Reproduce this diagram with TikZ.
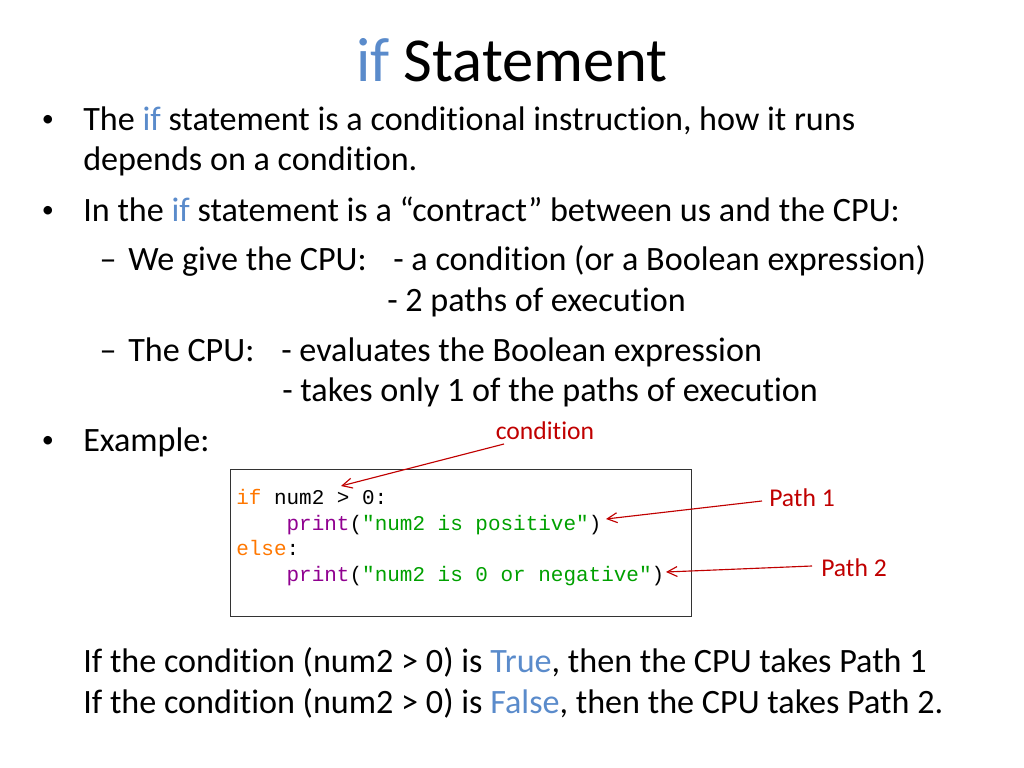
\documentclass[tikz,border=0pt]{standalone}
\usepackage{fontspec}
\setmainfont{Carlito}[Ligatures=NoCommon]
\newfontfamily\codefont{Liberation Mono}
\usetikzlibrary{arrows.meta}
\definecolor{kwblue}{HTML}{5A8BCB}
\definecolor{lblred}{HTML}{C00000}
\definecolor{pyorange}{HTML}{FF7700}
\definecolor{pypurple}{HTML}{900090}
\definecolor{pygreen}{HTML}{00A000}
\begin{document}
\begin{tikzpicture}[x=0.703125pt,y=-0.703125pt,
  body/.style={anchor=base west,inner sep=0pt,font=\fontsize{24}{28}\selectfont},
  bulletmark/.style={anchor=base,inner sep=0pt,font=\fontsize{17}{20}\selectfont},
  dashmark/.style={anchor=base,inner sep=0pt,font=\fontsize{24}{28}\selectfont},
  lbl/.style={inner sep=0pt,text=lblred,font=\fontsize{18}{21}\selectfont},
  code/.style={anchor=base west,inner sep=0pt,font=\codefont\fontsize{14.75}{17}\selectfont},
  callout/.style={draw=lblred,line width=0.8pt,-{Straight Barb[length=7pt,width=7pt]}}]
\useasboundingbox (0,0) rectangle (1024,768);
% title
\node[anchor=base,inner sep=0pt,font=\fontsize{44}{52}\selectfont] (title) at (512,82) {\textcolor{kwblue}{if} Statement};
% bullets
\node[bulletmark] (b1) at (48,127) {\textbullet};
\node[body] (t1) at (83,131) {The \textcolor{kwblue}{if} statement is a conditional instruction, how it runs};
\node[body] (t1b) at (83,171) {depends on a condition.};
\node[bulletmark] (b2) at (48,218) {\textbullet};
\node[body] (t2) at (83,222) {In the \textcolor{kwblue}{if} statement is a “contract” between us and the CPU:};
\node[dashmark] (d1) at (108,271) {–};
\node[body] (t3) at (128,271) {We give the CPU:};
\node[body] (t3a) at (393,271) {- a condition (or a Boolean expression)};
\node[body] (t3b) at (387,311) {- 2 paths of execution};
\node[dashmark] (d2) at (108,361) {–};
\node[body] (t4) at (128,361) {The CPU:};
\node[body] (t4a) at (281,361) {- evaluates the Boolean expression};
\node[body] (t4b) at (282,401) {- takes only 1 of the paths of execution};
\node[bulletmark] (b3) at (48,447) {\textbullet};
\node[body] (t5) at (83,451) {Example:};
% code box
\node[draw=black!80,line width=0.8pt,minimum width=461*0.703125pt,minimum height=147*0.703125pt,anchor=north west,inner sep=0pt] (box) at (230,469) {};
\node[code] (c1) at (236,504) {\textcolor{pyorange}{if} num2 > 0:};
\node[code] (c2) at (236,530) {\phantom{xxxx}\textcolor{pypurple}{print}(\textcolor{pygreen}{"num2 is positive"})};
\node[code] (c3) at (236,555.5) {\textcolor{pyorange}{else}:};
\node[code] (c4) at (236,581.5) {\phantom{xxxx}\textcolor{pypurple}{print}(\textcolor{pygreen}{"num2 is 0 or negative"})};
% labels
\node[lbl] (cond) at (545,431) {condition};
\node[lbl] (p1) at (802,498) {Path 1};
\node[lbl] (p2) at (854,568) {Path 2};
\coordinate (condtip) at (341,486);
\coordinate (p1tip) at (606,519);
\coordinate (p2tip) at (666,572);
\coordinate (condtail) at (504,444);
\coordinate (p1tail) at (762,501);
\coordinate (p2tail) at (812,566);
\draw[callout] (condtail) -- (condtip);
\draw[callout] (p1tail) -- (p1tip);
\draw[callout] (p2tail) -- (p2tip);
% conclusion
\node[body] (r1) at (83,672) {If the condition (num2 > 0) is \textcolor{kwblue}{True}, then the CPU takes Path 1};
\node[body] (r2) at (83,713) {If the condition (num2 > 0) is \textcolor{kwblue}{False}, then the CPU takes Path 2.};
\end{tikzpicture}
\end{document}
